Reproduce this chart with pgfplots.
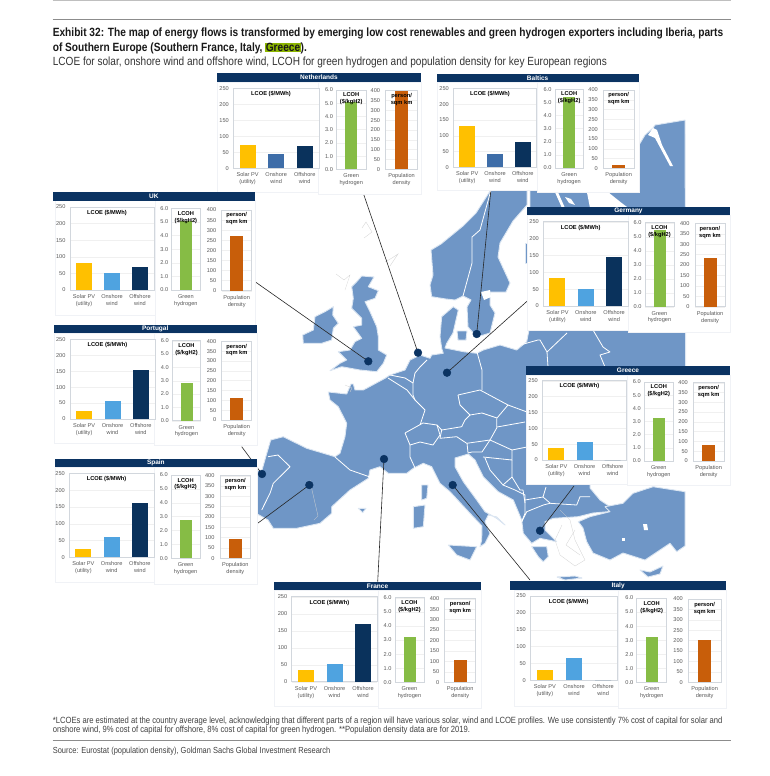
\documentclass[border=0pt]{standalone}
\usepackage{fontspec}
\usepackage{xcolor}
\usepackage{pgfplots}
\pgfplotsset{compat=1.18}
\setmainfont{Liberation Sans}
\newfontfamily\cond[FakeStretch=0.85]{Liberation Sans}

\definecolor{navy}{HTML}{0B3362}
\definecolor{mapblue}{HTML}{6F96C6}
\definecolor{halo}{HTML}{DCE6F2}
\definecolor{solar}{HTML}{FFC000}
\definecolor{onlight}{HTML}{4FA3E0}
\definecolor{ondark}{HTML}{3E6DA8}
\definecolor{offsh}{HTML}{0A325C}
\definecolor{hydro}{HTML}{86BC45}
\definecolor{popc}{HTML}{C85E0A}
\definecolor{framec}{HTML}{D2D7DD}
\definecolor{gridc}{HTML}{F0F0F0}
\definecolor{boxc}{HTML}{F0F2F6}
\definecolor{ticktxt}{HTML}{595959}
\definecolor{hl}{HTML}{8DB600}
\setlength{\fboxsep}{0.4pt}

\tikzset{ttl/.style={font=\bfseries\fontsize{5.7}{6.8}\selectfont,align=center,text=black}}
\pgfplotsset{
  panel/.style={
    scale only axis, anchor=south west, ymin=0, xmin=0,
    axis background/.style={fill=white},
    ymajorgrids, grid style={color=gridc,line width=.4pt},
    axis line style={color=framec,line width=.8pt},
    tick style={draw=none}, clip=false,
    tick label style={font=\fontsize{5.6}{6}\selectfont,text=ticktxt},
    /pgf/number format/assume math mode=true,
    xticklabel style={align=center,yshift=-1pt,font=\fontsize{5.6}{6.8}\selectfont},
  },
}

% x0 x1 ytop ybottom then values
\newcommand{\lcoe}[8]{%
  \pgfmathsetmacro{\pw}{#2-#1}\pgfmathsetmacro{\ph}{#4-#3}%
  \begin{axis}[panel,at={(#1pt,-#4pt)},width=\pw pt,height=\ph pt,
    xmax=3,ymax=250,ytick={0,50,100,150,200,250},xtick={0.5,1.5,2.5},
    xticklabels={{Solar PV\\(utility)},{Onshore\\wind},{Offshore\\wind}},
    yticklabel style={xshift=-1pt}]
    \addplot[ybar,bar width=16pt,bar shift=0pt,fill=solar,draw=none] coordinates {(0.5,#5)};
    \addplot[ybar,bar width=16pt,bar shift=0pt,fill=#8,draw=none] coordinates {(1.5,#6)};
    \addplot[ybar,bar width=16pt,bar shift=0pt,fill=offsh,draw=none] coordinates {(2.5,#7)};
    \node[ttl] at (rel axis cs:0.44,0.93) {LCOE (\$/MWh)};
  \end{axis}}
\newcommand{\lcoh}[5]{%
  \pgfmathsetmacro{\pw}{#2-#1}\pgfmathsetmacro{\ph}{#4-#3}%
  \begin{axis}[panel,at={(#1pt,-#4pt)},width=\pw pt,height=\ph pt,
    xmax=1,ymax=6,ytick={0,1,2,3,4,5,6},xtick={0.5},
    xticklabels={{Green\\hydrogen}},
    yticklabel style={/pgf/number format/fixed,/pgf/number format/fixed zerofill,/pgf/number format/precision=1}]
    \addplot[ybar,bar width=12pt,bar shift=0pt,fill=hydro,draw=none] coordinates {(0.5,#5)};
    \node[ttl] at (rel axis cs:0.5,0.89) {LCOH\\(\$/kgH2)};
  \end{axis}}
\newcommand{\popd}[5]{%
  \pgfmathsetmacro{\pw}{#2-#1}\pgfmathsetmacro{\ph}{#4-#3}%
  \begin{axis}[panel,at={(#1pt,-#4pt)},width=\pw pt,height=\ph pt,
    xmax=1,ymax=400,ytick={0,50,100,150,200,250,300,350,400},xtick={0.5},
    xticklabels={{Population\\density}},
    yticklabel style={xshift=-2pt}]
    \addplot[ybar,bar width=13pt,bar shift=0pt,fill=popc,draw=none] coordinates {(0.5,#5)};
    \node[ttl] at (rel axis cs:0.5,0.89) {person/\\sqm km};
  \end{axis}}

% drawn in the canvas axis
\newcommand{\terra}[1]{\addplot[fill=mapblue,draw=halo,line width=.9pt,line join=round] coordinates {#1} --cycle;}
\newcommand{\hole}[1]{\addplot[fill=white,draw=none] coordinates {#1} --cycle;}
\newcommand{\bline}[1]{\addplot[draw=white,line width=.8pt,line join=round] coordinates {#1};}
\newcommand{\isle}[1]{\addplot[draw=gray!35,line width=.3pt] coordinates {#1};}
\newcommand{\link}[4]{%
  \addplot[draw=black!85,line width=.6pt] coordinates {(#1,#2)(#3,#4)};
  \addplot[only marks,mark=*,mark size=3.9pt,mark options={fill=navy,draw=navy}] coordinates {(#3,#4)};}
\newcommand{\wbox}[4]{\addplot[fill=white,draw=boxc,line width=.4pt] coordinates {(#1,#2)(#3,#2)(#3,#4)(#1,#4)} --cycle;}
\newcommand{\banner}[5]{%
  \addplot[fill=navy,draw=none] coordinates {(#2,#4)(#3,#4)(#3,#5)(#2,#5)} --cycle;
  \node[text=white,font=\bfseries\fontsize{6.5}{7}\selectfont] at (axis cs:{(#2+#3)/2},{(#4+#5)/2}) {#1};}

\begin{document}
\begin{tikzpicture}
\path[use as bounding box] (0,0) rectangle (770pt,-776pt);
\begin{axis}[scale only axis,width=770pt,height=776pt,at={(0pt,-776pt)},anchor=south west,
  xmin=0,xmax=770,ymin=-776,ymax=0,hide axis,clip=false]
% map, y is minus the pixel row
\terra{(270.7,-440)(283.3,-436.7)(306.7,-448.3)(335,-456.7)(340,-453.3)(345,-436.7)(346.7,-423.3)(338.3,-406.7)(330,-400)(328.3,-392)(346.7,-394)(351,-384)(353.3,-384)(355,-390)(363.3,-390)(385,-378.3)(390,-375)(405,-370)(410,-360)(420,-355)(430,-358.3)(431.7,-355)(443.3,-353.3)(441.7,-348.3)(440,-336.7)(441.7,-316.7)(453.3,-306.7)(458.3,-310)(453,-333)(446.7,-343.3)(445,-348)(463.3,-351.7)(476.7,-353.3)(483.3,-350)(500,-345)(516.7,-350)(526.7,-341.7)(529,-330)(530,-207)(530,-188)(639,-188)(639,-145)(645,-135)(653,-128)(655,-125)(685,-120)(686,-480)(590,-480)(590,-488)(600,-500)(610,-506.7)(608,-511.7)(593,-513)(578,-516.7)(553.3,-518.3)(545,-521.7)(545,-530)(556.7,-541.7)(548.3,-540)(540,-538.3)(531.7,-543.3)(523.3,-533.3)(521.7,-520)(513.3,-500)(498.3,-491.7)(483.3,-476.7)(475,-460)(468.3,-454)(455,-458)(455,-466.7)(463.3,-481.7)(476.7,-500)(485,-511.7)(496.7,-518.3)(505,-525)(496.7,-517)(488.3,-515)(485,-521.7)(490,-533.3)(485,-543.3)(480,-546.7)(481.7,-540)(482,-526)(470,-513.3)(450,-491.7)(440,-483.3)(431.7,-466.7)(423.3,-463.3)(413.3,-468.3)(406.7,-473.3)(388.3,-473.3)(380,-466.7)(370,-470)(368.3,-478.3)(350,-490)(331.7,-506.7)(331.7,-513.3)(320,-523.3)(296.7,-528.3)(273.3,-528.3)(268,-520)(250,-510)(250,-472)(262,-470)(266,-456)}
\terra{(431.7,-296.7)(430,-285)(433,-275)(431,-250)(441,-244)(463,-226)(476,-213)(492,-188)(527,-188)(527,-205)(513,-221)(500,-243)(498,-257)(510,-283)(506,-292)(490,-292)(490,-305)(495,-313)(490,-333)(477,-337)(468,-327)(467,-307)(471,-300)(463,-296)(455,-300)(446,-299)}
\terra{(303.3,-343.3)(302.7,-335)(313.3,-330)(315,-316.7)(325,-311.7)(333.3,-306.7)(332.7,-315)(338.3,-323.3)(333.3,-328.3)(331.7,-340)(321.7,-343.3)}
\terra{(361.7,-276)(374,-277)(368.3,-286.7)(378.3,-290.7)(375,-298.3)(365,-301.7)(370,-311.7)(376.7,-326.7)(378.3,-336.7)(378.3,-350)(386.7,-355)(383.3,-363.3)(376.7,-371.7)(360,-370)(341.7,-366.7)(330,-370.7)(340,-363.3)(346.7,-360)(338.3,-351.7)(350,-350)(355,-341.7)(361.7,-338.3)(353.3,-326.7)(361.7,-325)(361.7,-318.3)(351.7,-308.3)(353.3,-298.3)(351.7,-286.7)(356.7,-281.7)}
\terra{(685,-491.7)(653,-486.7)(633,-493.3)(623,-503.3)(605,-506.7)(610,-511.7)(590,-516.7)(578.3,-521.7)(583,-528)(586.7,-541.7)(593,-553)(610,-560)(623,-553)(645,-560)(670,-543.3)(676.7,-551.7)(685,-546)}
\terra{(531.7,-546.7)(546.7,-546.7)(548.3,-556.7)(543.3,-561.7)(538.3,-556.7)}
\terra{(421.7,-485)(428,-485)(426.7,-498.3)(421.7,-500)}
\terra{(413.3,-506.7)(425,-505)(423.3,-526.7)(413.3,-528.3)}
\terra{(448.3,-545)(476.7,-546.7)(470,-560)(456.7,-555)}
\terra{(358.3,-508.3)(366,-508.3)(362.7,-512.7)}
\terra{(457,-331)(467,-331)(466,-340)(458,-340)}
\terra{(640,-570)(650,-572)(663,-566)(660,-574)(648,-577)}
\terra{(525,-243)(527,-243)(527,-263)(525,-263)}
\terra{(557,-577)(575,-576)(582,-578)(565,-580)}
% inland water and seas
\hole{(653,-128)(648,-135)(655,-138)(670,-166)(673,-166)(662,-145)(657,-130)}
\hole{(586.7,-191)(606.7,-191)(620,-201.7)(628.3,-208)(590,-208)}
\hole{(554,-190)(557,-190)(565,-208)(562,-208)}
\hole{(565,-197)(571,-199)(575,-205)(569,-203)}
\hole{(481,-292)(490,-290)(491,-297)(484,-300)}
\hole{(643,-524)(647,-524)(648,-530)(644,-530)}
\hole{(622,-538)(625,-538)(625,-541)(622,-541)}
% borders
\bline{(335,-457)(350,-470)(370,-477)}
\bline{(268,-456.7)(278,-455)(290,-466.7)(281.7,-475)(273.3,-483.3)(270,-493.3)(261.7,-510)}
\bline{(388,-378)(407,-390)(415,-400)}
\bline{(390,-375)(405,-378)(413,-383)(413,-395)(415,-400)}
\bline{(413,-383)(415,-373)(420,-367)(427,-360)}
\bline{(415,-400)(425,-410)(420,-425)}
\bline{(405,-433)(423,-423)(437,-425)(440,-435)(433,-445)(420,-442)(410,-445)(405,-433)}
\bline{(410,-445)(410,-457)(415,-468)}
\bline{(477,-352)(482,-370)(482,-390)}
\bline{(458,-395)(480,-390)(508,-405)(497,-418)(482,-413)(470,-415)(460,-405)(458,-395)}
\bline{(470,-415)(465,-420)(461.7,-426.7)(441.7,-430)(440,-438.3)(456.7,-436.7)(466.7,-443.3)(490,-440)(496.7,-428)(496.7,-418.3)}
\bline{(437,-425)(441.7,-430)}
\bline{(508,-405)(527,-412)}
\bline{(497,-427)(525,-422)}
\bline{(490,-440)(512,-450)(527,-447)}
\bline{(467,-443)(468,-453)(472,-452)(482,-452)(490,-440)}
\bline{(483,-457)(512,-460)(512,-450)}
\bline{(485,-458)(490,-470)(503,-485)(512,-477)(512,-460)}
\bline{(512,-477)(520,-490)(523,-490)(525,-503)}
\bline{(503,-485)(515,-490)(525,-495)(525,-513.3)(521.7,-521.7)}
\bline{(521.7,-521.7)(526.7,-511.7)(543.3,-505)(550,-503.3)(576.7,-505)(580,-496.7)(590,-496.7)}
\bline{(525,-500)(543,-497)(550,-503)}
\bline{(543,-497)(546,-487)}
\bline{(520,-345)(538,-340)(540,-340)(547,-352)(567,-333)}
\bline{(547,-352)(548,-367)}
\bline{(593,-330)(603,-347)(610,-352)(600,-355)(605,-367)}
\bline{(491,-190)(480,-230)(472,-237)(472,-263)(463,-296)}
% outlines of small islands
\isle{(362,-228)(366,-222)(372,-232)(364,-238)}
\isle{(385,-262)(392,-258)(398,-254)(390,-266)}
\isle{(336,-274)(344,-280)(350,-275)(345,-290)}
\isle{(345,-385)(352,-388)(350,-392)}
\isle{(310,-480)(312,-490)(318,-516)(314,-520)}
\isle{(560,-510)(570,-520)(575,-540)(585,-560)(575,-566)(560,-555)(555,-540)(562,-525)}
\isle{(575,-530)(566,-545)(580,-555)}
% connectors
\link{255}{-281.7}{368.3}{-361.3}
\link{363.3}{-193.3}{418}{-352.7}
\link{490.7}{-191.7}{476.7}{-334}
\link{527.3}{-301}{447}{-372.7}
\link{574}{-486}{540}{-530.7}
\link{241.7}{-446.7}{262}{-474}
\link{256.7}{-524}{309.3}{-485}
\link{377.7}{-581.7}{384}{-459}
\link{530}{-580}{452.7}{-485}
% panel backgrounds
\wbox{217}{-82}{318}{-192}\wbox{318}{-82}{421.4}{-194}
\wbox{437}{-82}{537}{-190}\wbox{537}{-82}{639}{-192}
\wbox{54.7}{-200}{155}{-315}\wbox{155}{-200}{255}{-325}
\wbox{527}{-215}{628}{-330}\wbox{628}{-215}{730}{-332}
\wbox{54}{-333}{155}{-443}\wbox{154}{-333}{257}{-445}
\wbox{526}{-375}{627}{-484}\wbox{627}{-375}{730}{-485}
\wbox{55}{-467}{154}{-582}\wbox{153.7}{-467}{256.7}{-584}
\wbox{274}{-590}{378}{-706}\wbox{378}{-590}{481}{-708}
\wbox{514}{-590}{618}{-706}\wbox{618}{-590}{726}{-708}
\banner{Netherlands}{216.6}{421.4}{-73}{-82}
\banner{Baltics}{436.6}{638.7}{-74}{-82}
\banner{UK}{52.7}{255}{-192}{-200.7}
\banner{Germany}{527}{730}{-206.7}{-215}
\banner{Portugal}{53.7}{256.7}{-325.3}{-333.3}
\banner{Greece}{526}{730}{-366}{-374.7}
\banner{Spain}{55}{256.7}{-458.7}{-467}
\banner{France}{274.3}{480.7}{-581.7}{-590}
\banner{Italy}{510.3}{726}{-581.3}{-590}
% page furniture
\addplot[draw=gray!50,line width=.7pt] coordinates {(52.6,-0.5)(731,-0.5)};
\addplot[draw=gray!90,line width=.9pt] coordinates {(52.6,-19.5)(731,-19.5)};
\addplot[draw=gray!90,line width=.9pt] coordinates {(52.6,-740)(731,-740)};
\node[anchor=base west,inner sep=0pt,font=\cond\bfseries\fontsize{11.95}{13}\selectfont,text=black!90] at (axis cs:52.6,-36.5) {Exhibit 32: The map of energy flows is transformed by emerging low cost renewables and green hydrogen exporters including Iberia, parts};
\node[anchor=base west,inner sep=0pt,font=\cond\bfseries\fontsize{11.95}{13}\selectfont,text=black!90] at (axis cs:52.6,-51.5) {of Southern Europe (Southern France, Italy, \colorbox{hl}{Greece}).};
\node[anchor=base west,inner sep=0pt,font=\cond\fontsize{11.85}{13}\selectfont,text=black!80] at (axis cs:52.6,-66) {LCOE for solar, onshore wind and offshore wind, LCOH for green hydrogen and population density for key European regions};
\node[anchor=base west,inner sep=0pt,font=\cond\fontsize{9}{10}\selectfont,text=black!75] at (axis cs:52.6,-723) {*LCOEs are estimated at the country average level, acknowledging that different parts of a region will have various solar, wind and LCOE profiles. We use consistently 7\% cost of capital for solar and};
\node[anchor=base west,inner sep=0pt,font=\cond\fontsize{9}{10}\selectfont,text=black!75] at (axis cs:52.6,-732) {onshore wind, 9\% cost of capital for offshore, 8\% cost of capital for green hydrogen. **Population density data are for 2019.};
\node[anchor=base west,inner sep=0pt,font=\cond\fontsize{8.8}{10}\selectfont,text=black!75] at (axis cs:52.6,-753.5) {Source: Eurostat (population density), Goldman Sachs Global Investment Research};
\end{axis}
% Netherlands
\lcoe{233.3}{319}{88.3}{168.3}{73}{45}{70}{ondark}
\lcoh{336.4}{366}{90}{169.3}{5.1}
\popd{385.6}{417.5}{90.7}{169.3}{400}
% Baltics
\lcoe{453.3}{536.7}{88.3}{167.3}{132}{42}{79}{ondark}
\lcoh{555}{583.3}{89.3}{168}{5.4}
\popd{603.3}{634}{90}{168.3}{17}
% UK
\lcoe{70}{154}{207}{290}{82}{50}{70}{onlight}
\lcoh{171.7}{200}{208.3}{290}{5.1}
\popd{221.7}{251.7}{210}{290.7}{272}
% Germany
\lcoe{543.3}{628.3}{221.7}{306}{82}{50}{144}{onlight}
\lcoh{645}{674}{222.7}{306.7}{5.5}
\popd{695}{725}{223.3}{306.7}{235}
% Portugal
\lcoe{70}{155}{339.3}{419}{25}{57}{155}{onlight}
\lcoh{172.3}{200.7}{340.7}{420.7}{2.8}
\popd{221.7}{251.7}{341.3}{420}{110}
% Greece
\lcoe{542.3}{626.7}{380.7}{460}{37}{58}{0}{onlight}
\lcoh{644.3}{673.3}{382}{461}{3.3}
\popd{693.3}{724}{382.7}{461}{82}
% Spain
\lcoe{69.3}{154}{473.3}{557.3}{24}{60}{161}{onlight}
\lcoh{171.3}{200}{475}{558.3}{2.75}
\popd{220}{250.7}{475.7}{558.3}{95}
% France
\lcoe{291.7}{377.3}{596.7}{681.7}{34}{52}{170}{onlight}
\lcoh{395}{424}{597.7}{682.3}{3.2}
\popd{444.7}{475.7}{598.7}{682.3}{105}
% Italy
\lcoe{530.3}{617.7}{596}{680.3}{31}{65}{0}{onlight}
\lcoh{636.7}{666.7}{598}{682.3}{3.2}
\popd{688.3}{721}{599}{682.3}{202}
\end{tikzpicture}
\end{document}
